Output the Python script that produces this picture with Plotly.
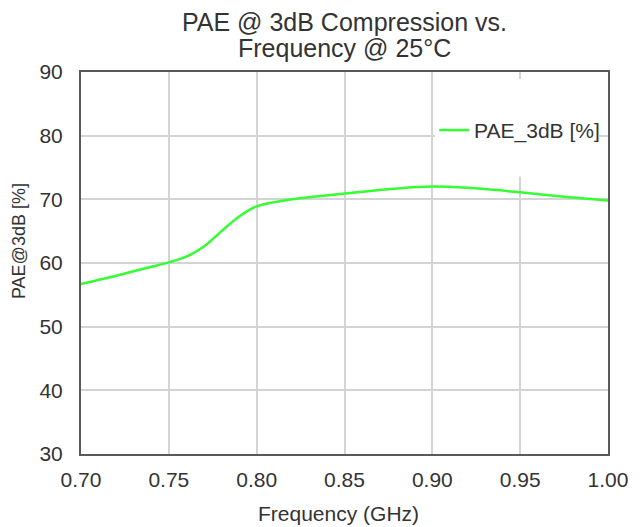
import plotly.graph_objects as go

freq_ghz = [0.70, 0.72, 0.74, 0.75, 0.76, 0.77, 0.78, 0.79, 0.80, 0.82, 0.85, 0.88, 0.90, 0.92, 0.95, 0.975, 1.00]
pae_3db = [56.7, 58.0, 59.4, 60.1, 61.0, 62.6, 65.0, 67.3, 68.9, 70.0, 70.9, 71.7, 72.0, 71.8, 71.1, 70.4, 69.8]

x_ticks = [0.70, 0.75, 0.80, 0.85, 0.90, 0.95, 1.00]
x_tick_labels = ["0.70", "0.75", "0.80", "0.85", "0.90", "0.95", "1.00"]
y_ticks = [30, 40, 50, 60, 70, 80, 90]

title_lines = ["PAE @ 3dB Compression vs.", "Frequency @ 25°C"]
x_title = "Frequency (GHz)"
y_title = "PAE@3dB [%]"
series_name = "PAE_3dB [%]"

FONT = "Liberation Sans, Arial, sans-serif"
TXT = "#333333"

fig = go.Figure()
fig.add_trace(go.Scatter(
    x=freq_ghz, y=pae_3db, mode="lines", name=series_name,
    line=dict(color="#33ff33", width=2.5, shape="spline", smoothing=0.8),
))

# white box behind legend hiding gridlines
fig.add_shape(type="rect", xref="x", yref="y", x0=0.9015, x1=0.995, y0=73.6, y1=88.9,
              fillcolor="white", line=dict(width=0), layer="between")

fig.update_layout(
    width=640, height=527,
    margin=dict(l=81, r=23, t=72, b=73),
    paper_bgcolor="white", plot_bgcolor="white",
    font=dict(family=FONT, size=21, color=TXT),
    showlegend=True,
    legend=dict(x=0.67, y=0.847, xanchor="left", yanchor="middle",
                bgcolor="rgba(0,0,0,0)", borderwidth=0,
                font=dict(size=21, color=TXT)),
)
fig.update_xaxes(
    range=[0.70, 1.00], tickvals=x_ticks, ticktext=x_tick_labels,
    showgrid=True, gridcolor="#d4d4d4", gridwidth=1.5,
    showline=True, linecolor="#595959", linewidth=2, mirror=True,
    ticks="outside", ticklen=6, tickcolor="rgba(0,0,0,0)", zeroline=False,
)
fig.update_yaxes(
    range=[30, 90], tickvals=y_ticks,
    showgrid=True, gridcolor="#d4d4d4", gridwidth=1.5,
    showline=True, linecolor="#595959", linewidth=2, mirror=True,
    ticks="outside", ticklen=12, tickcolor="rgba(0,0,0,0)", zeroline=False,
)

ph = 527 - 72 - 73
pw = 640 - 81 - 23
def py(pix):
    return (527 - 73 - pix) / ph
def px(pix):
    return (pix - 81) / pw

fig.add_annotation(text=title_lines[0], x=px(349), y=py(22), xref="paper", yref="paper",
                   xanchor="center", yanchor="middle", showarrow=False, font=dict(size=25, color=TXT))
fig.add_annotation(text=title_lines[1], x=px(349), y=py(48), xref="paper", yref="paper",
                   xanchor="center", yanchor="middle", showarrow=False, font=dict(size=25, color=TXT))
fig.add_annotation(text=x_title, x=px(343), y=py(513), xref="paper", yref="paper",
                   xanchor="center", yanchor="middle", showarrow=False, font=dict(size=21, color=TXT))
fig.add_annotation(text=y_title, x=px(18), y=py(241), xref="paper", yref="paper",
                   xanchor="center", yanchor="middle", textangle=-90, showarrow=False,
                   font=dict(size=18, color=TXT))

fig.write_html("out.html", config={"displayModeBar": False},
               post_script="document.body.style.margin='0';document.body.style.overflow='hidden';")
